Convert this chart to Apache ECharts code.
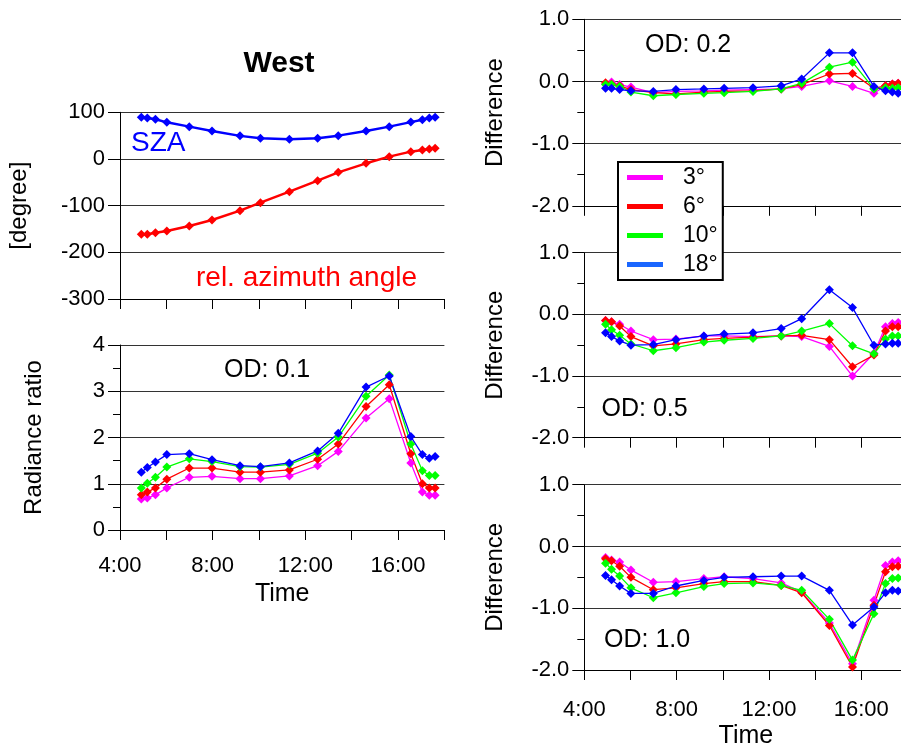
<!DOCTYPE html>
<html><head><meta charset="utf-8">
<script src="https://cdn.jsdelivr.net/npm/echarts@6/dist/echarts.min.js"></script>
<style>html,body{margin:0;padding:0;background:#fff}#c{width:901px;height:747px}</style>
</head><body><div id="c"></div>
<script>
// ---- data ----
const times = [4.92, 5.18, 5.53, 6.02, 6.99, 7.97, 9.18, 10.06, 11.31, 12.53, 13.42, 14.62, 15.62, 16.55, 17.05, 17.35, 17.6];
const timeTicks = [4, 8, 12, 16];
const sza = [89.3, 88, 85, 78.5, 69.3, 60, 49.5, 44.3, 42.1, 44.3, 50, 60, 69.3, 79, 84, 88, 89.5];
const relAzimuth = [-161.4, -161.4, -158, -154.3, -143.6, -130.7, -110.7, -93.6, -70, -46.4, -28.6, -9.3, 5, 15.7, 19.3, 21.4, 22.9];
const legendNames = ['3°', '6°', '10°', '18°'];

const ratio3  = [0.67, 0.69, 0.76, 0.91, 1.14, 1.16, 1.11, 1.11, 1.17, 1.39, 1.70, 2.42, 2.84, 1.45, 0.82, 0.75, 0.75];
const ratio6  = [0.76, 0.82, 0.91, 1.10, 1.34, 1.34, 1.25, 1.25, 1.30, 1.53, 1.86, 2.67, 3.14, 1.65, 1.00, 0.91, 0.91];
const ratio10 = [0.91, 1.01, 1.14, 1.36, 1.54, 1.48, 1.37, 1.36, 1.42, 1.66, 2.01, 2.89, 3.35, 1.86, 1.28, 1.18, 1.18];
const ratio18 = [1.25, 1.35, 1.47, 1.63, 1.65, 1.52, 1.39, 1.37, 1.45, 1.71, 2.09, 3.09, 3.33, 2.02, 1.63, 1.55, 1.59];

const od02_3  = [-0.04, -0.01, -0.05, -0.09, -0.18, -0.16, -0.15, -0.14, -0.13, -0.12, -0.08, 0.01, -0.08, -0.19, -0.07, -0.04, -0.03];
const od02_6  = [-0.02, -0.04, -0.07, -0.13, -0.18, -0.20, -0.17, -0.16, -0.15, -0.12, -0.05, 0.12, 0.13, -0.11, -0.07, -0.04, -0.03];
const od02_10 = [-0.05, -0.05, -0.08, -0.17, -0.23, -0.21, -0.19, -0.18, -0.16, -0.12, -0.03, 0.23, 0.31, -0.12, -0.10, -0.11, -0.10];
const od02_18 = [-0.11, -0.11, -0.13, -0.15, -0.16, -0.13, -0.12, -0.11, -0.10, -0.07, 0.04, 0.46, 0.46, -0.08, -0.15, -0.17, -0.19];

const od05_3  = [-0.10, -0.12, -0.16, -0.27, -0.41, -0.40, -0.35, -0.35, -0.36, -0.35, -0.36, -0.52, -1.00, -0.63, -0.20, -0.15, -0.13];
const od05_6  = [-0.10, -0.12, -0.19, -0.36, -0.51, -0.48, -0.41, -0.39, -0.37, -0.35, -0.34, -0.41, -0.85, -0.66, -0.27, -0.20, -0.20];
const od05_10 = [-0.16, -0.25, -0.34, -0.48, -0.59, -0.54, -0.45, -0.42, -0.39, -0.35, -0.27, -0.15, -0.51, -0.64, -0.40, -0.35, -0.35];
const od05_18 = [-0.30, -0.36, -0.43, -0.50, -0.49, -0.41, -0.35, -0.32, -0.30, -0.23, -0.07, 0.40, 0.11, -0.50, -0.48, -0.47, -0.47];

const od10_3  = [-0.18, -0.22, -0.25, -0.38, -0.58, -0.57, -0.52, -0.49, -0.52, -0.59, -0.74, -1.24, -1.90, -0.87, -0.31, -0.25, -0.23];
const od10_6  = [-0.20, -0.23, -0.32, -0.50, -0.70, -0.67, -0.60, -0.57, -0.57, -0.63, -0.75, -1.28, -1.95, -0.95, -0.41, -0.33, -0.32];
const od10_10 = [-0.27, -0.37, -0.48, -0.67, -0.83, -0.75, -0.65, -0.60, -0.59, -0.63, -0.71, -1.18, -1.84, -1.09, -0.60, -0.52, -0.51];
const od10_18 = [-0.47, -0.54, -0.64, -0.76, -0.76, -0.64, -0.55, -0.50, -0.49, -0.48, -0.48, -0.71, -1.27, -0.98, -0.75, -0.71, -0.72];

// ---- styling ----
const FONT = '"Liberation Sans", Arial, Helvetica, sans-serif';
const COLORS = ['#ff00ff', '#ff0000', '#00ff00', '#0000ff'];
const LEGEND_COLORS = ['#ff00ff', '#ff0000', '#00ff00', '#1a66ff'];

const grids = [
  {left: 120, top: 112.3, width: 324.4, height: 186.7},
  {left: 120, top: 345, width: 324.4, height: 185},
  {left: 584.3, top: 19.3, width: 323.1, height: 186.5},
  {left: 584.3, top: 252.7, width: 323.1, height: 185},
  {left: 584.3, top: 484.7, width: 323.1, height: 185.3}
].map(g => Object.assign(g, {outerBoundsMode: 'none', containLabel: false}));

function xAxis(gi, withLabels, margin, nameGap) {
  return {
    type: 'value', gridIndex: gi, min: 4, max: 18, interval: 2,
    axisLine: {onZero: false, lineStyle: {color: '#000', width: 1}},
    axisTick: {show: true, length: 10, lineStyle: {color: '#000'}},
    splitLine: {show: false},
    axisLabel: {
      show: withLabels, margin: margin, fontSize: 22, color: '#000', fontFamily: FONT,
      formatter: v => timeTicks.indexOf(v) >= 0 ? (v + ':00') : ''
    },
    name: withLabels ? 'Time' : '', nameLocation: 'middle', nameGap: nameGap,
    nameTextStyle: {fontSize: 25, color: '#000', fontFamily: FONT}
  };
}
function yAxis(gi, min, max, interval, minor, name, nameGap, fmt) {
  return {
    type: 'value', gridIndex: gi, min: min, max: max, interval: interval,
    axisLine: {show: true, onZero: false, lineStyle: {color: '#000', width: 1}},
    axisTick: {show: true, length: 12, lineStyle: {color: '#000'}},
    minorTick: {show: minor, splitNumber: 2, length: 7, lineStyle: {color: '#000'}},
    splitLine: {show: true, lineStyle: {color: '#333', width: 1}},
    axisLabel: {margin: 15, fontSize: 22, color: '#000', fontFamily: FONT, formatter: fmt},
    name: name, nameLocation: 'middle', nameGap: nameGap,
    nameTextStyle: {fontSize: 24, color: '#000', fontFamily: FONT}
  };
}
const fmt1 = v => v.toFixed(1);
const fmt0 = v => String(v);

function pairs(vals) { return times.map((t, i) => [t, vals[i]]); }
function lineSeries(name, vals, color, gi, width, size) {
  return {
    type: 'line', name: name, xAxisIndex: gi, yAxisIndex: gi,
    data: pairs(vals), symbol: 'diamond', symbolSize: size, showSymbol: true,
    lineStyle: {color: color, width: width}, itemStyle: {color: color},
    animation: false, z: 3
  };
}

const groups = [
  [ratio3, ratio6, ratio10, ratio18],
  [od02_3, od02_6, od02_10, od02_18],
  [od05_3, od05_6, od05_10, od05_18],
  [od10_3, od10_6, od10_10, od10_18]
];

const series = [
  lineSeries('SZA', sza, '#0000ff', 0, 2.5, 9),
  lineSeries('rel. azimuth angle', relAzimuth, '#ff0000', 0, 2.5, 9)
];
groups.forEach((g, k) => {
  g.forEach((vals, i) => series.push(lineSeries(legendNames[i], vals, COLORS[i], k + 1, 1.3, 9)));
});

function label(text, x, y, size, color, align, bold) {
  return {
    type: 'text', x: x, y: y, z: 20,
    style: {
      text: text, fill: color, align: align, textAlign: align,
      verticalAlign: 'middle', textVerticalAlign: 'middle',
      font: (bold ? 'bold ' : '') + size + 'px ' + FONT
    }
  };
}

const option = {
  backgroundColor: '#fff',
  animation: false,
  grid: grids,
  xAxis: [xAxis(0, false, 25, 52), xAxis(1, true, 25, 52), xAxis(2, false, 25, 52), xAxis(3, false, 25, 52), xAxis(4, true, 29, 54)],
  yAxis: [
    yAxis(0, -300, 100, 100, false, '[degree]', 89, fmt0),
    yAxis(1, 0, 4, 1, true, 'Radiance ratio', 74, fmt0),
    yAxis(2, -2, 1, 1, true, 'Difference', 77, fmt1),
    yAxis(3, -2, 1, 1, true, 'Difference', 77, fmt1),
    yAxis(4, -2, 1, 1, true, 'Difference', 77, fmt1)
  ],
  legend: {
    data: legendNames.map((n, i) => ({name: n, itemStyle: {color: LEGEND_COLORS[i]}})),
    orient: 'vertical', left: 618, top: 162,
    icon: 'rect', itemWidth: 36, itemHeight: 5, itemGap: 6,
    padding: [4, 5, 4, 9],
    borderColor: '#000', borderWidth: 2, backgroundColor: '#fff',
    selectedMode: false, z: 10,
    textStyle: {fontSize: 23, color: '#000', fontFamily: FONT, padding: [0, 0, 0, 15]}
  },
  graphic: [
    label('West', 279, 64, 30, '#000', 'center', true),
    label('SZA', 131, 143, 28, '#0000ff', 'left'),
    label('rel. azimuth angle', 196, 278.5, 28, '#ff0000', 'left'),
    label('OD: 0.1', 224, 370, 25, '#000', 'left'),
    label('OD: 0.2', 645, 45.5, 25, '#000', 'left'),
    label('OD: 0.5', 601.5, 409.5, 25, '#000', 'left'),
    label('OD: 1.0', 604, 640.5, 25, '#000', 'left')
  ],
  series: series
};

const chart = echarts.init(document.getElementById('c'), null, {renderer: 'canvas'});
chart.setOption(option);
</script>
</body></html>
